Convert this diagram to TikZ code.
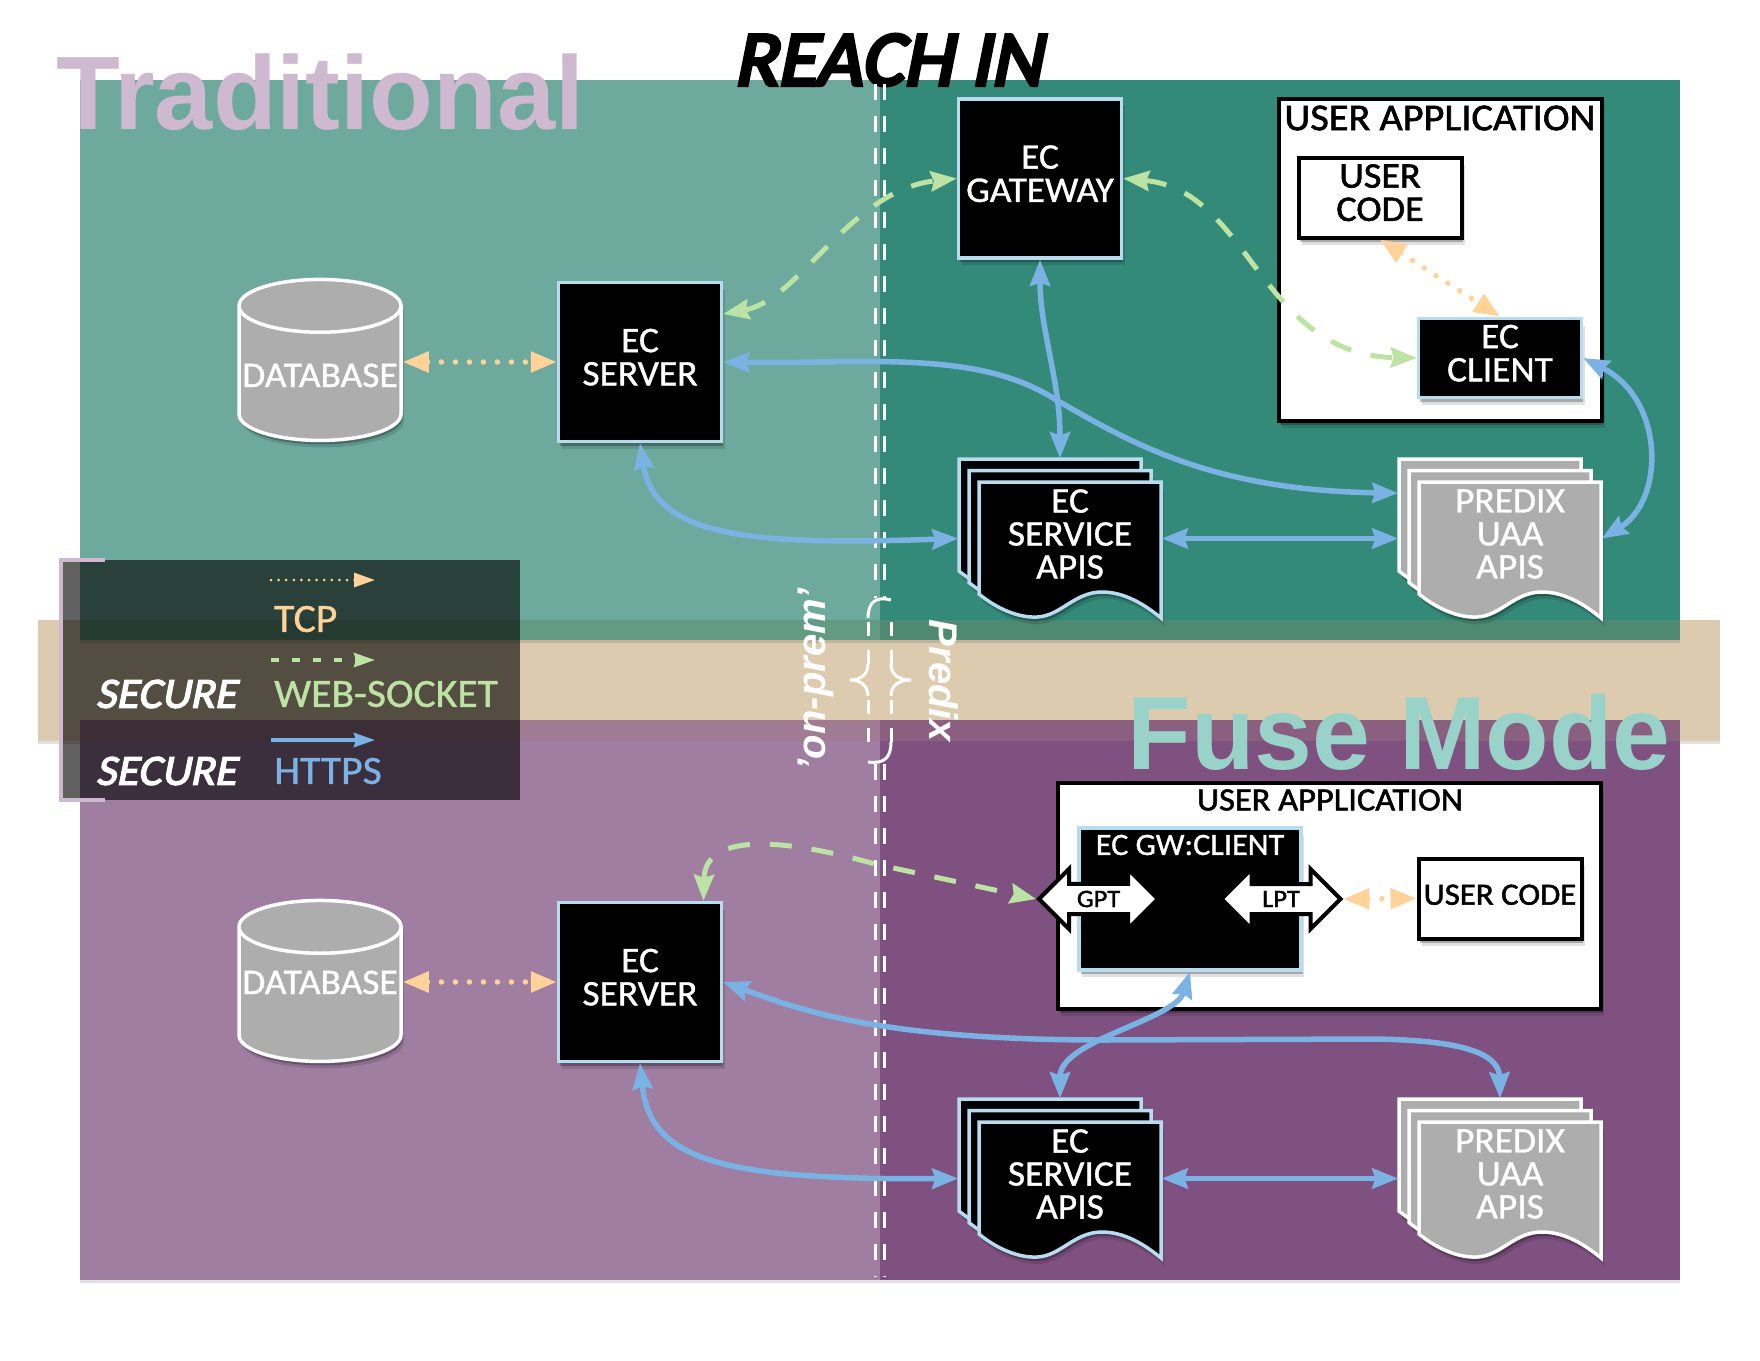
\documentclass[tikz,border=0pt]{standalone}
\usepackage{fontspec}
\usetikzlibrary{arrows.meta,shadows,shapes.geometric,shapes.arrows}
\setmainfont{Liberation Sans}
\newfontfamily\comicfont[FakeBold=1,FakeStretch=1.04]{Carlito}
\newfontfamily\comicbold[FakeBold=1.6,FakeStretch=1.06]{Carlito}
\newfontfamily\comicslant[FakeSlant=0.2,FakeBold=3,FakeStretch=1.04]{Carlito}
\newfontfamily\comicheavy[FakeSlant=0.2,FakeBold=5,FakeStretch=1.02]{Carlito}
\definecolor{tealpale}{HTML}{6DA99C}
\definecolor{tealdeep}{HTML}{348A78}
\definecolor{tealpalemix}{HTML}{639A82}
\definecolor{tealdeepmix}{HTML}{4F8873}
\definecolor{plumpale}{HTML}{9F7EA1}
\definecolor{plumdeep}{HTML}{7F5180}
\definecolor{plumpalemix}{HTML}{A07B93}
\definecolor{plumdeepmix}{HTML}{8B5F80}
\definecolor{sandband}{HTML}{DDCBB0}
\definecolor{lilactitle}{HTML}{CFB9D0}
\definecolor{minttitle}{HTML}{98D2C8}
\definecolor{iceborder}{HTML}{B7DCF0}
\definecolor{graybody}{HTML}{ADADAD}
\definecolor{tcpcolor}{HTML}{FFD29A}
\definecolor{wscolor}{HTML}{BCE2A4}
\definecolor{httpscolor}{HTML}{7AB3E3}
\tikzset{
  softshadow/.style={drop shadow={shadow xshift=3pt,shadow yshift=-7pt,fill=black,opacity=.12},drop shadow={shadow xshift=1.5pt,shadow yshift=-4pt,fill=black,opacity=.25}},
  panelshadow/.style={drop shadow={shadow xshift=0pt,shadow yshift=-3pt,fill=black,opacity=.12}},
  comictext/.style={font=\comicfont\fontsize{36}{33}\selectfont,align=center,inner sep=0pt},
  blackbox/.style={rectangle,draw=iceborder,fill=black,line width=3.5pt,text=white,softshadow,comictext},
  whitebox/.style={rectangle,draw=black,fill=white,line width=4pt,text=black,softshadow,font=\comicbold\fontsize{36}{33}\selectfont,align=center,inner sep=0pt},
  dbshape/.style={cylinder,shape border rotate=90,aspect=.34,draw=white,fill=graybody,line width=3.5pt,minimum width=162pt,minimum height=161pt,text=white,softshadow,comictext},
  docframe/.style={rectangle,minimum width=203pt,minimum height=160pt,inner sep=0pt},
  doctext/.style={comictext,text=white},
  portarrow/.style={double arrow,draw=black,fill=white,line width=4pt,minimum height=119pt,minimum width=60pt,double arrow head extend=12pt,inner sep=2pt,font=\comicbold\fontsize{25}{25}\selectfont},
  https/.style={draw=httpscolor,line width=5.5pt,>={Stealth[length=26pt,width=20pt,inset=3pt]}},
  wsock/.style={draw=wscolor,line width=5pt,dash pattern=on 22pt off 20pt,>={Stealth[length=26pt,width=20pt,inset=3pt]}},
  tcpline/.style={draw=tcpcolor,line width=5.5pt,line cap=round,dash pattern=on 0pt off 14pt,>={Triangle[length=26pt,width=20pt]}},
  legendlabel/.style={anchor=west,font=\comicfont\fontsize{40}{40}\selectfont,inner sep=0pt},
  securelabel/.style={font=\comicslant\fontsize{43}{43}\selectfont,text=white,inner sep=0pt},
  sidelabel/.style={font=\bfseries\itshape\fontsize{40}{40}\selectfont,text=white,inner sep=0pt},
  splitline/.style={draw=white,line width=3pt,dash pattern=on 16pt off 16pt},
  braceline/.style={draw=white,line width=3pt}
}
\newcommand{\stackbox}[1]{\begin{tabular}{@{}c@{}}#1\end{tabular}}
\newcommand{\docstack}[7]{
  \foreach \dx/\dy in {0/0,10/11.5,20/23}{
    \begin{scope}[shift={(#2+\dx,#3+\dy)}]
      \filldraw[draw=#4,fill=#5,line width=3.5pt,line join=miter,softshadow] (0,0) -- (182,0) -- (182,136)
        .. controls (165,122) and (145,110) .. (123,110)
        .. controls (95,110) and (82,134) .. (58,135)
        .. controls (40,136) and (18,127) .. (0,112) -- cycle;
    \end{scope}
  }
  \node[docframe] (#1) at (#2+101,#3+79.5) {};
  \node[doctext] (#1text) at (#2+#6,#3+75) {#7};
}
\begin{document}
\begin{tikzpicture}[x=1pt,y=-1pt]
  \useasboundingbox (0,0) rectangle (1760,1360);
  \fill[sandband,panelshadow] (38,620) rectangle (1720,741);
  \fill[tealpale,panelshadow] (80,80) rectangle (880,640);
  \fill[tealdeep,panelshadow] (880,80) rectangle (1680,640);
  \fill[plumpale,panelshadow] (80,720) rectangle (880,1280);
  \fill[plumdeep,panelshadow] (880,720) rectangle (1680,1280);
  \fill[tealpalemix] (80,620) rectangle (880,640);
  \fill[tealdeepmix] (880,620) rectangle (1680,640);
  \fill[plumpalemix] (80,720) rectangle (880,741);
  \fill[plumdeepmix] (880,720) rectangle (1680,741);

  \node[font=\bfseries\fontsize{104.5}{104.5}\selectfont,text=lilactitle,inner sep=0pt,anchor=base west] (tradtitle) at (56,129) {Traditional};
  \node[font=\bfseries\fontsize{104}{104}\selectfont,text=minttitle,inner sep=0pt,text depth=0pt,anchor=base east] (fusetitle) at (1671,769) {Fuse Mode};
  \node[font=\comicheavy\fontsize{78}{78}\selectfont,text=black,inner sep=0pt] (reachin) at (888,60) {REACH IN};

  \coordinate (splitatop) at (875,84);
  \coordinate (splitabot) at (875,598);
  \coordinate (splitbtop) at (884,84);
  \coordinate (splitbbot) at (884,598);
  \coordinate (splitctop) at (875,764);
  \coordinate (splitcbot) at (875,1277);
  \coordinate (splitdtop) at (884,764);
  \coordinate (splitdbot) at (884,1277);
  \draw[splitline] (splitatop) -- (splitabot);
  \draw[splitline] (splitbtop) -- (splitbbot);
  \draw[splitline] (splitctop) -- (splitcbot);
  \draw[splitline] (splitdtop) -- (splitdbot);
  \draw[braceline] (891,600) .. controls (876,596) and (868,602) .. (868,618);
  \draw[braceline,dash pattern=on 14pt off 14pt] (868,622) -- (868,664);
  \draw[braceline] (868,664) .. controls (868,675) and (860,680) .. (850,680) .. controls (860,680) and (868,685) .. (868,696);
  \draw[braceline,dash pattern=on 14pt off 14pt] (868,700) -- (868,742);
  \draw[braceline,dash pattern=on 14pt off 14pt] (891,622) -- (891,664);
  \draw[braceline] (891,664) .. controls (891,675) and (899,680) .. (911,680) .. controls (899,680) and (891,685) .. (891,696);
  \draw[braceline,dash pattern=on 14pt off 14pt] (891,700) -- (891,742);
  \draw[braceline] (891,742) .. controls (891,758) and (884,764) .. (868,762);
  \node[sidelabel,rotate=90] (onprem) at (816,679) {'on-prem'};
  \node[sidelabel,rotate=-90] (predix) at (944,681) {Predix};

  \node[dbshape] (db1) at (320,374) {\raisebox{-13pt}[0pt][0pt]{DATABASE}};
  \node[blackbox,minimum width=163pt,minimum height=159pt] (srv1) at (640,362) {\stackbox{EC\\SERVER}};
  \node[blackbox,minimum width=163pt,minimum height=159pt] (gw1) at (1040,178.5) {\stackbox{EC\\GATEWAY}};
  \node[whitebox,minimum width=323pt,minimum height=322pt] (app1) at (1440,260) {};
  \node[font=\comicbold\fontsize{38}{38}\selectfont,inner sep=0pt] (app1title) at (1440,118) {USER APPLICATION};
  \node[whitebox,minimum width=163pt,minimum height=80pt] (code1) at (1380,197.5) {\stackbox{USER\\CODE}};
  \node[blackbox,minimum width=163pt,minimum height=79pt] (cl1) at (1500,358) {\stackbox{EC\\CLIENT}};
  \docstack{svc1}{959}{459}{iceborder}{black}{111}{EC\\SERVICE\\APIS}
  \docstack{uaa1}{1399}{459}{white}{graybody}{111}{PREDIX\\UAA\\APIS}

  \node[dbshape] (db2) at (320,995) {\raisebox{1pt}[0pt][0pt]{DATABASE}};
  \node[blackbox,minimum width=163pt,minimum height=159pt] (srv2) at (640,982) {\stackbox{EC\\SERVER}};
  \node[whitebox,minimum width=543pt,minimum height=226pt] (app2) at (1329.5,896) {};
  \node[font=\comicbold\fontsize{32.5}{32.5}\selectfont,inner sep=0pt] (app2title) at (1330,800) {USER APPLICATION};
  \node[blackbox,minimum width=222pt,minimum height=142pt] (gwc) at (1190,899) {};
  \node[comictext,text=white,font=\comicfont\fontsize{31}{31}\selectfont] (gwctitle) at (1190,845) {EC GW:CLIENT};
  \node[portarrow] (gpt) at (1098.5,899) {GPT};
  \node[portarrow] (lpt) at (1281,899) {LPT};
  \node[whitebox,minimum width=163pt,minimum height=80pt,font=\comicbold\fontsize{31}{31}\selectfont] (code2) at (1500,898.5) {\stackbox{USER CODE}};
  \docstack{svc2}{959}{1099}{iceborder}{black}{111}{EC\\SERVICE\\APIS}
  \docstack{uaa2}{1399}{1099}{white}{graybody}{111}{PREDIX\\UAA\\APIS}

  \draw[tcpline,<->] (db1.east |- srv1.west) -- (srv1.west);
  \draw[wsock,<->] (srv1.30) .. controls (800,300) and (850,190) .. (gw1.west);
  \draw[wsock,<->] (gw1.east) .. controls (1250,190) and (1260,355) .. (cl1.west);
  \draw[tcpline,<->] (code1.south) -- (cl1.north);
  \draw[https,<->] (gw1.south) .. controls (1040,330) and (1060,380) .. (svc1.north);
  \draw[https,<->] (srv1.east) .. controls (860,364) and (970,350) .. (1048,395) .. controls (1130,443) and (1210,490) .. (uaa1.156);
  \draw[https,<->] (srv1.south) .. controls (655,540) and (760,545) .. (svc1.west);
  \draw[https,<->] (svc1.east) -- (uaa1.west);
  \draw[https,<->] (cl1.east) .. controls (1665,400) and (1665,500) .. (uaa1.east);

  \draw[tcpline,<->] (db2.east |- srv2.west) -- (srv2.west);
  \draw[wsock,<->] (srv2.52) .. controls (705,830) and (790,840) .. (875,864) -- (gpt.west);
  \draw[tcpline,<->] (lpt.east) -- (code2.west);
  \draw[https,<->] (srv2.east) .. controls (800,1010) and (880,1040) .. (1104,1040) -- (1374,1039) .. controls (1450,1040) and (1499,1050) .. (uaa2.north);
  \draw[https,<->] (gwc.south) .. controls (1175,1020) and (1060,1040) .. (svc2.north);
  \draw[https,<->] (srv2.south) .. controls (650,1160) and (720,1180) .. (svc2.west);
  \draw[https,<->] (svc2.east) -- (uaa2.west);

  \fill[black,opacity=.62] (59,560) rectangle (520,800);
  \draw[draw=lilactitle,line width=4pt] (105,560) -- (61,560) -- (61,800) -- (105,800);
  \coordinate (tcpa) at (271,580);
  \coordinate (tcpb) at (375,580);
  \coordinate (wsa) at (271,660);
  \coordinate (wsb) at (375,660);
  \coordinate (httpsa) at (271,740);
  \coordinate (httpsb) at (375,740);
  \draw[tcpcolor,line width=3pt,line cap=round,dash pattern=on 0pt off 7.6pt,-{Triangle[length=21pt,width=14pt]}] (tcpa) -- (tcpb);
  \draw[wscolor,line width=4pt,dash pattern=on 8pt off 13pt,-{Stealth[length=21pt,width=14pt,inset=2pt]}] (wsa) -- (wsb);
  \draw[httpscolor,line width=4pt,-{Stealth[length=21pt,width=14pt,inset=2pt]}] (httpsa) -- (httpsb);
  \node[legendlabel,text=tcpcolor] (tcplabel) at (274,619) {TCP};
  \node[legendlabel,text=wscolor] (wslabel) at (274,694) {WEB-SOCKET};
  \node[legendlabel,text=httpscolor] (httpslabel) at (274,771) {HTTPS};
  \node[securelabel] (secureb) at (166,694) {SECURE};
  \node[securelabel] (securec) at (166,771) {SECURE};
\end{tikzpicture}
\end{document}
